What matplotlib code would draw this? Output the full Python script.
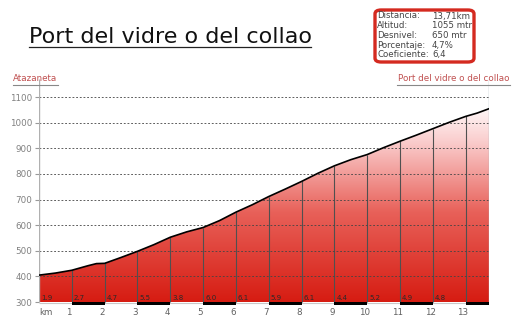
import numpy as np
import matplotlib
matplotlib.use("Agg")
import matplotlib.pyplot as plt
from matplotlib.lines import Line2D
from matplotlib.patches import FancyBboxPatch, Polygon
from matplotlib.colors import LinearSegmentedColormap

# ---- data ----
dist_km = [0, 0.5, 1, 1.5, 1.75, 2, 2.5, 3, 3.5, 4, 4.5, 5, 5.5, 6, 6.5, 7, 7.5, 8,
           8.5, 9, 9.5, 10, 10.5, 11, 11.5, 12, 12.5, 13, 13.35, 13.71]
elev_m = [405, 413, 424, 442, 450, 451, 474, 498, 524, 553, 574, 591, 618, 651, 680,
          712, 741, 771, 803, 832, 856, 876, 903, 928, 952, 977, 1002, 1025, 1038, 1055]
km_marks = list(range(1, 14))
seg_pct = ["1.9", "2.7", "4.7", "5.5", "3.8", "6.0", "6.1", "5.9", "6.1", "4.4",
           "5.2", "4.9", "4.8"]
y_ticks = [300, 400, 500, 600, 700, 800, 900, 1000, 1100]
title = "Port del vidre o del collao"
start_name = "Atazaneta"
end_name = "Port del vidre o del collao"
info_keys = ["Distancia:", "Altitud:", "Desnivel:", "Porcentaje:", "Coeficiente:"]
info_vals = ["13,71km", "1055 mtr", "650 mtr", "4,7%", "6,4"]

W, H = 512, 323
fig = plt.figure(figsize=(W / 100, H / 100), dpi=100)
fig.patch.set_facecolor("white")

# axes geometry (pixels)
px_per_m = 0.256
ymin, ymax = 285, 1170
x0, x1 = 39, 489
y300 = 302
ax_bottom_px = y300 + (300 - ymin) * px_per_m
ax_h_px = (ymax - ymin) * px_per_m
ax = fig.add_axes([x0 / W, (H - ax_bottom_px) / H, (x1 - x0) / W, ax_h_px / H])
ax.set_xlim(0, dist_km[-1])
ax.set_ylim(ymin, ymax)
for s in ax.spines.values():
    s.set_visible(False)

base = 300
# gradient fill
cmap = LinearSegmentedColormap.from_list(
    "rw", [(0.0, (0.84, 0.11, 0.07)), (0.45, (0.91, 0.38, 0.35)),
           (0.8, (0.98, 0.80, 0.80)), (1.0, (1, 1, 1))])
grad = np.linspace(0, 1, 256).reshape(-1, 1)
im = ax.imshow(grad, extent=(0, dist_km[-1], base, 1080), origin="lower", aspect="auto",
               cmap=cmap, zorder=1)
verts = [(dist_km[0], base)] + list(zip(dist_km, elev_m)) + [(dist_km[-1], base)]
poly = Polygon(verts, closed=True, facecolor="none", edgecolor="none", transform=ax.transData)
ax.add_patch(poly)
im.set_clip_path(poly)

# grid
for yv in y_ticks[1:]:
    ax.hlines(yv, 0, dist_km[-1], colors="#444444", linestyles=(0, (2.2, 2.2)),
              linewidth=0.6, zorder=3)

# km verticals
km_elev = np.interp(km_marks, dist_km, elev_m)
ax.vlines(km_marks, base, km_elev, colors="#505050", linewidth=0.8, zorder=2)

# profile
ax.plot(dist_km, elev_m, color="black", linewidth=1.2, zorder=4, solid_capstyle="round")

# axis lines
ax.vlines(0, base, ymax, colors="#b0b0b0", linewidth=1.0, zorder=3)
ax.vlines(dist_km[-1], base, ymax, colors="#a8b4bc", linewidth=1.0, zorder=3)
ax.hlines(base - 4, 0, dist_km[-1], colors="#c8c8c8", linewidth=0.8, zorder=3)
bars = [(k, min(1, dist_km[-1] - k)) for k in range(1, 14, 2)]
ax.broken_barh(bars, (base - 10, 10), facecolors="black", zorder=4)

# segment labels
for i, lab in enumerate(seg_pct):
    ax.text(i + 0.06, base + 3, lab, fontsize=5.0, color="#2a2a2a", ha="left",
            va="bottom", zorder=5)

# ticks
ax.set_yticks(y_ticks)
ax.set_yticklabels([str(v) for v in y_ticks])
ax.tick_params(axis="y", length=3, width=0.8, color="#999999", labelsize=6.3,
               labelcolor="#808080", pad=2)
ax.set_xticks([k - 0.08 for k in km_marks])
ax.set_xticklabels([str(k) for k in km_marks])
ax.tick_params(axis="x", length=0, labelsize=6.3, labelcolor="#606060", pad=1.5)
ax.text(0.0, -0.01, "km", transform=ax.transAxes, fontsize=6.3, color="#606060",
        ha="left", va="top")

# title
fig.text(29 / W, 1 - 37 / H, title, fontsize=16.0, color="#111111", ha="left",
         va="center")
fig.add_artist(Line2D([29 / W, 311 / W], [1 - 47 / H, 1 - 47 / H], color="#222222",
                      linewidth=0.9))

# endpoint labels
fig.text(13 / W, 1 - 79 / H, start_name, fontsize=6.3, color="#c05050", ha="left", va="center")
fig.add_artist(Line2D([13 / W, 58 / W], [1 - 85 / H, 1 - 85 / H], color="#888888", linewidth=0.8))
fig.text(509 / W, 1 - 79 / H, end_name, fontsize=6.3, color="#c05050", ha="right", va="center")
fig.add_artist(Line2D([397 / W, 510 / W], [1 - 85 / H, 1 - 85 / H], color="#888888", linewidth=0.8))

# info box
box = FancyBboxPatch((375 / W, 1 - 62 / H), 99 / W, 52 / H,
                     boxstyle="round,pad=0,rounding_size=0.012",
                     transform=fig.transFigure, facecolor="white",
                     edgecolor="#d42a20", linewidth=2.4)
fig.add_artist(box)
for i, (k, v) in enumerate(zip(info_keys, info_vals)):
    yy = 1 - (16 + i * 9.7) / H
    fig.text(377 / W, yy, k, fontsize=6.2, color="#444444", ha="left", va="center")
    fig.text(432 / W, yy, v, fontsize=6.2, color="#444444", ha="left", va="center")

fig.savefig("out.png", dpi=100)
